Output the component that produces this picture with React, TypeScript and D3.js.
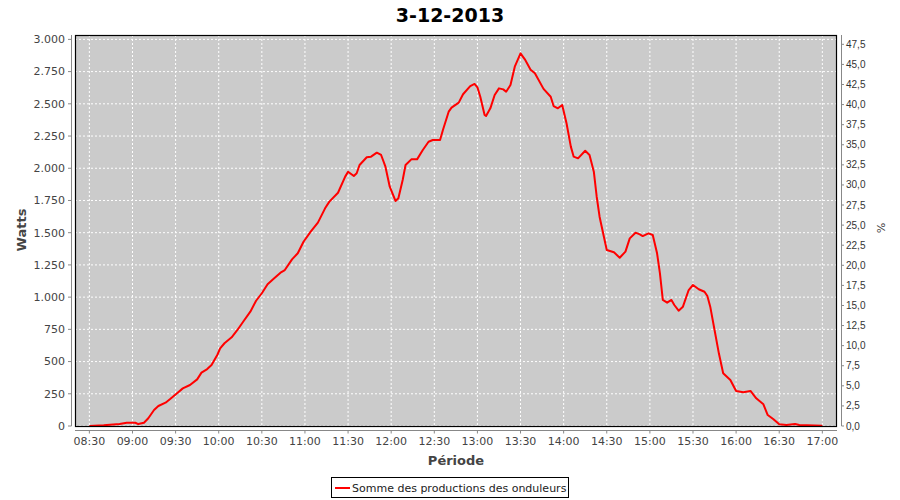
import React from "react";
import * as d3 from "d3";

const times = ["08:30","08:40","08:51","08:56","09:02","09:04","09:08","09:11","09:15","09:18","09:23","09:26","09:31","09:35","09:40","09:45","09:48","09:52","09:55","09:59","10:01","10:04","10:09","10:13","10:17","10:22","10:26","10:30","10:34","10:39","10:43","10:46","10:51","10:55","10:59","11:04","11:09","11:14","11:17","11:23","11:28","11:30","11:34","11:36","11:38","11:43","11:46","11:50","11:53","11:56","11:59","12:03","12:05","12:08","12:10","12:14","12:18","12:22","12:26","12:29","12:34","12:36","12:40","12:42","12:47","12:50","12:55","12:58","13:00","13:02","13:05","13:06","13:09","13:12","13:15","13:18","13:20","13:23","13:26","13:30","13:33","13:37","13:40","13:46","13:51","13:53","13:56","13:59","14:02","14:05","14:07","14:10","14:15","14:18","14:21","14:23","14:25","14:28","14:30","14:35","14:39","14:43","14:46","14:50","14:53","14:55","14:59","15:02","15:05","15:07","15:09","15:12","15:15","15:17","15:20","15:23","15:27","15:30","15:34","15:38","15:40","15:42","15:45","15:48","15:51","15:56","16:00","16:05","16:10","16:14","16:19","16:22","16:26","16:30","16:35","16:41","16:44","17:00"];
const watts = [0,5,15,25,25,15,25,60,124,155,181,207,254,292,318,362,414,442,473,551,603,642,688,745,809,887,972,1030,1100,1150,1190,1210,1293,1340,1430,1508,1578,1689,1741,1810,1935,1973,1940,1961,2025,2085,2090,2121,2103,2012,1857,1746,1767,1909,2025,2069,2069,2142,2206,2219,2219,2297,2439,2470,2509,2574,2638,2654,2628,2555,2413,2405,2465,2568,2620,2612,2594,2646,2788,2892,2845,2765,2737,2616,2555,2483,2465,2491,2349,2168,2090,2077,2136,2103,1973,1779,1624,1469,1366,1348,1306,1353,1456,1500,1487,1474,1495,1482,1340,1185,978,957,978,939,895,926,1055,1094,1061,1042,1009,926,745,564,409,357,272,262,272,215,168,85,52,13,8,15,8,2];
const xTickLabels = ["08:30","09:00","09:30","10:00","10:30","11:00","11:30","12:00","12:30","13:00","13:30","14:00","14:30","15:00","15:30","16:00","16:30","17:00"];
const leftTicks = [0,250,500,750,1000,1250,1500,1750,2000,2250,2500,2750,3000];
const rightTicks = [0,2.5,5,7.5,10,12.5,15,17.5,20,22.5,25,27.5,30,32.5,35,37.5,40,42.5,45,47.5];
const title = "3-12-2013";
const seriesName = "Somme des productions des onduleurs";

const toMin = (s: string) => { const [h, m] = s.split(":").map(Number); return h * 60 + m; };

export default function App() {
  const L = 75, R = 837, T = 35, B = 426;
  const x = d3.scaleLinear().domain([500, 1030.2]).range([L, R]);
  const y = d3.scaleLinear().domain([0, 3034]).range([B, T]);
  const y2 = d3.scaleLinear().domain([0, 48.66]).range([B, T]);
  const line = d3.line<number>().x((_, i) => x(toMin(times[i]))).y((d) => y(d));
  const fmtL = (v: number) => v.toLocaleString("de-DE");
  const fmtR = (v: number) => v.toFixed(1).replace(".", ",");
  const font = "'DejaVu Sans', sans-serif";
  return (
    <svg width={900} height={500} style={{ position: "absolute", left: 0, top: 0, background: "#fff" }} fontFamily={font}>
      <rect x={0} y={0} width={900} height={500} fill="#fff" />
      <text x={450} y={22} textAnchor="middle" fontSize={19} fontWeight="bold" fill="#000">{title}</text>
      <rect x={L} y={T} width={R - L} height={B - T} fill="#cbcbcb" />
      {xTickLabels.map((t) => (
        <line key={"gx" + t} x1={x(toMin(t))} x2={x(toMin(t))} y1={T} y2={B} stroke="#fff" strokeDasharray="2,2" />
      ))}
      {leftTicks.map((v) => (
        <line key={"gy" + v} x1={L} x2={R} y1={y(v)} y2={y(v)} stroke="#fff" strokeDasharray="2,2" />
      ))}
      <path d={line(watts) || ""} fill="none" stroke="#ff0000" strokeWidth={2} strokeLinejoin="round" />
      <rect x={L + 0.5} y={T + 0.5} width={R - L - 1} height={B - T} fill="none" stroke="#000" strokeWidth={1.2} />
      {/* left axis */}
      <line x1={71.5} x2={71.5} y1={T} y2={B} stroke="#888" />
      {leftTicks.map((v) => (
        <g key={"l" + v}>
          <line x1={68} x2={71.5} y1={y(v)} y2={y(v)} stroke="#888" />
          <text x={65} y={y(v)} dy="0.35em" textAnchor="end" fontSize={11} fill="#444">{fmtL(v)}</text>
        </g>
      ))}
      <text transform="translate(26,230) rotate(-90)" textAnchor="middle" fontSize={13} fontWeight="bold" fill="#444">Watts</text>
      {/* right axis */}
      <line x1={841.5} x2={841.5} y1={T} y2={B} stroke="#888" />
      {rightTicks.map((v) => (
        <g key={"r" + v}>
          <line x1={841.5} x2={844} y1={y2(v)} y2={y2(v)} stroke="#888" />
          <text x={846} y={y2(v)} dy="0.35em" fontSize={10} fill="#333" fontFamily="'Liberation Sans', Arial, sans-serif">{fmtR(v)}</text>
        </g>
      ))}
      <text transform="translate(877,228) rotate(90)" textAnchor="middle" fontSize={11} fill="#444">%</text>
      {/* bottom axis */}
      <line x1={L} x2={R} y1={430.5} y2={430.5} stroke="#888" />
      {xTickLabels.map((t) => (
        <g key={"b" + t}>
          <line x1={x(toMin(t))} x2={x(toMin(t))} y1={430.5} y2={433.5} stroke="#888" />
          <text x={x(toMin(t))} y={445} textAnchor="middle" fontSize={11} fill="#444">{t}</text>
        </g>
      ))}
      <text x={456} y={465} textAnchor="middle" fontSize={13} fontWeight="bold" fill="#444">Période</text>
      {/* legend */}
      <rect x={331.5} y={477.5} width={237} height={20} fill="#fff" stroke="#000" />
      <line x1={335} x2={350} y1={488} y2={488} stroke="#ff0000" strokeWidth={2} />
      <text x={352} y={492} fontSize={11} fill="#222">{seriesName}</text>
    </svg>
  );
}
